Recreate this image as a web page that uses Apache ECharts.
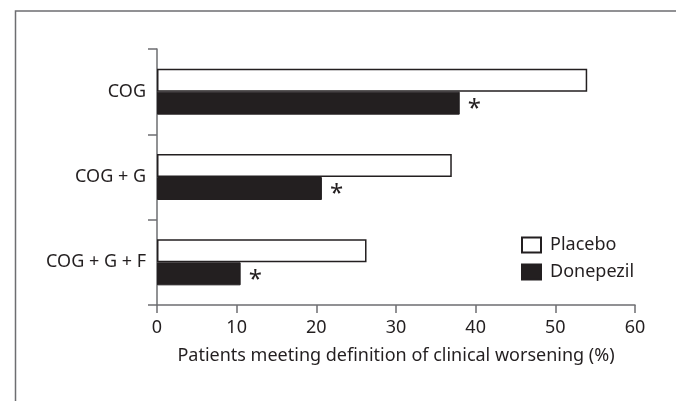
<!DOCTYPE html>
<html>
<head>
<meta charset="utf-8">
<script src="https://cdn.jsdelivr.net/npm/echarts@6/dist/echarts.min.js"></script>
<style>
html,body{margin:0;padding:0;background:#fff;}
#chart{width:676px;height:401px;}
</style>
</head>
<body>
<div id="chart"></div>
<script>
var categories = ['COG', 'COG + G', 'COG + G + F'];
var placebo = [54, 37, 26.3];
var donepezil = [38, 20.7, 10.5];
var significance = ['*', '*', '*'];
var xTicks = [0, 10, 20, 30, 40, 50, 60];
var seriesNames = ['Placebo', 'Donepezil'];
var xAxisTitle = 'Patients meeting definition of clinical worsening (%)';

var FONT = '"Noto Sans", sans-serif';
var TXT = '#231f20';
var AX = '#6d6e71';
var FS = 18;

var chart = echarts.init(document.getElementById('chart'), null, {renderer: 'canvas'});
chart.setOption({
  animation: false,
  backgroundColor: '#fff',
  textStyle: {fontFamily: FONT, color: TXT},
  graphic: [{
    type: 'rect', left: 13, top: 8.5, silent: true,
    shape: {x: 0, y: 0, width: 800, height: 600},
    style: {fill: 'none', stroke: AX, lineWidth: 1.5}
  }],
  grid: {left: 157, right: 41, top: 49, bottom: 96, containLabel: false},
  legend: {
    left: 521, top: 236, orient: 'vertical', padding: 0,
    itemWidth: 19, itemHeight: 15, itemGap: 9,
    icon: 'rect',
    data: seriesNames,
    textStyle: {fontFamily: FONT, fontSize: FS, color: TXT, padding: [0, 0, 0, 4]}
  },
  xAxis: {
    type: 'value', min: xTicks[0], max: xTicks[xTicks.length - 1], interval: 10,
    name: xAxisTitle, nameLocation: 'middle', nameGap: 42,
    nameTextStyle: {fontFamily: FONT, fontSize: FS, color: TXT},
    axisLine: {show: true, lineStyle: {color: AX, width: 1.5}},
    axisTick: {show: true, length: 8, lineStyle: {color: AX, width: 1.5}},
    axisLabel: {fontFamily: FONT, fontSize: FS, color: TXT, margin: 14},
    splitLine: {show: false}
  },
  yAxis: {
    type: 'category', data: categories, inverse: true,
    axisLine: {show: true, lineStyle: {color: AX, width: 1.5}},
    axisTick: {show: true, length: 9, lineStyle: {color: AX, width: 1.5}},
    axisLabel: {fontFamily: FONT, fontSize: FS, color: TXT, margin: 11}
  },
  series: [{
    name: seriesNames[0], type: 'bar', data: placebo,
    barWidth: 23, barGap: '0%',
    itemStyle: {color: '#ffffff', borderColor: TXT, borderWidth: 1.5}
  }, {
    name: seriesNames[1], type: 'bar', data: donepezil,
    barWidth: 23, barGap: '0%',
    itemStyle: {color: TXT, borderColor: TXT, borderWidth: 1},
    label: {
      show: true, position: 'right', distance: 8,
      formatter: function (p) { return significance[p.dataIndex]; },
      fontFamily: FONT, fontSize: 24, color: TXT, offset: [0, 6]
    }
  }]
});
</script>
</body>
</html>
